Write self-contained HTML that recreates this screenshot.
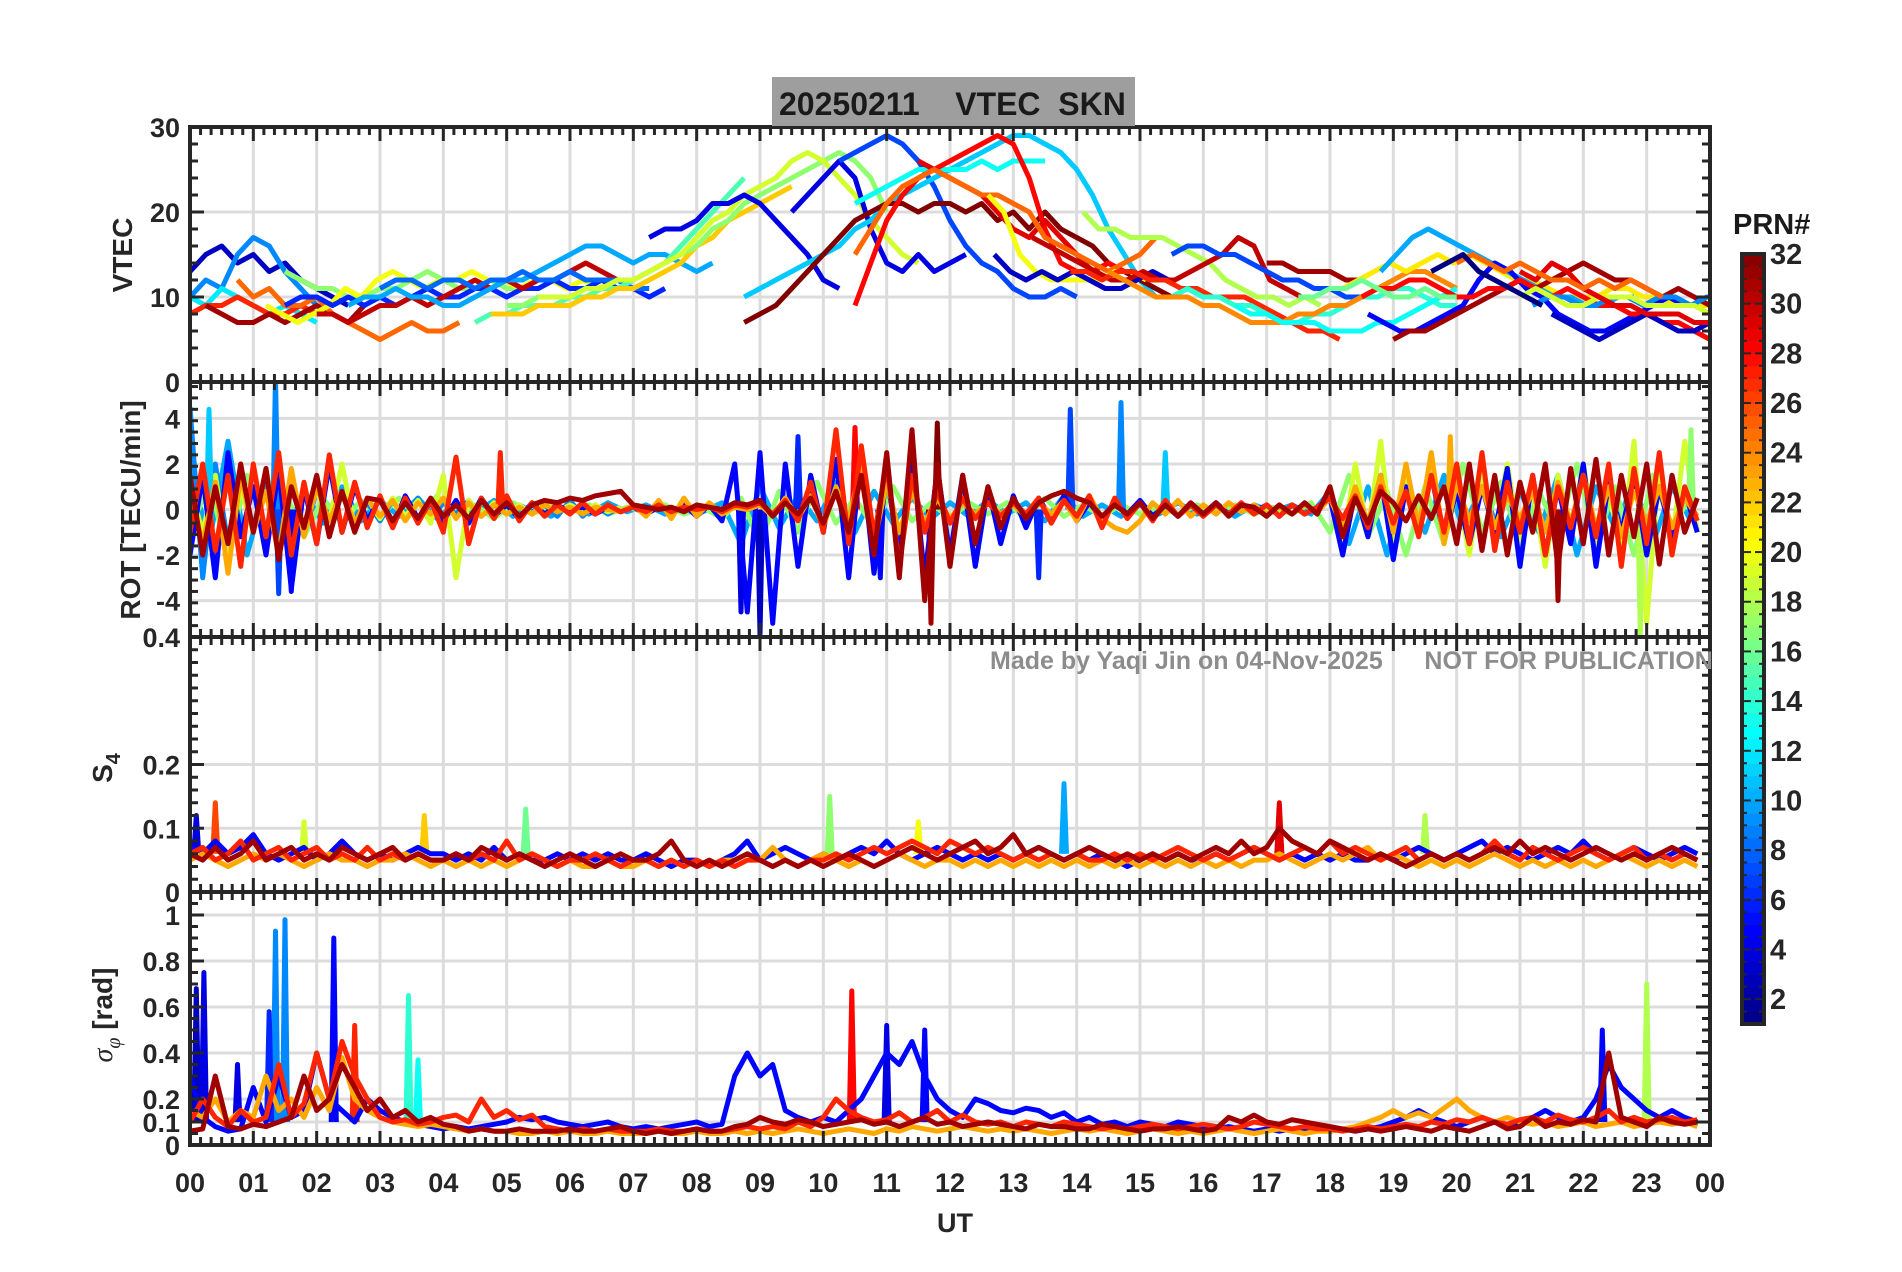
<!DOCTYPE html>
<html><head><meta charset="utf-8"><style>
html,body{margin:0;padding:0;background:#fff}
svg{display:block}
text{font-family:"Liberation Sans",Arial,sans-serif;font-weight:bold;fill:#262626}
</style></head><body>
<svg id="chart" width="1902" height="1272" viewBox="0 0 1902 1272" xmlns="http://www.w3.org/2000/svg">
<g id="grid"></g>
<g id="series"></g>
<g id="axes"></g>
<g id="labels"></g>
</svg>
<script>
// ---------- DATA ----------
const xTickLabels=["00","01","02","03","04","05","06","07","08","09","10","11","12","13","14","15","16","17","18","19","20","21","22","23","00"];
const cbarTicks=[2,4,6,8,10,12,14,16,18,20,22,24,26,28,30,32];
const vtecTicks=[0,10,20,30];
const rotTicks=[-4,-2,0,2,4];
const s4Ticks=[0,0.1,0.2,0.4];
const sigTicks=[0,0.1,0.2,0.4,0.6,0.8,1];
// VTEC tracks: prn, start hour, values at 0.25 h step
const vtecPrn=[3,9,12,27,31,25,17,20,6,30,10,8,15,22,17,19,4,4,7,11,13,32,28,29,25,20,3,18,30,27,7,31,14,24,13,21,10,5,31,28,9,19,3,29,25,16,1];
const vtecStart=[0,0,0,0,0.25,0.75,1.5,1.2,1.5,2.0,2.5,3.0,4.5,4.75,5.0,5.5,7.25,9.5,10.25,8.75,10.5,8.75,10.5,11.5,10.5,12.6,12.7,14.1,13.3,13.9,15.5,17.0,15.5,14.5,16.5,18.2,18.8,18.6,19.0,18.5,21.2,21.0,21.5,21.0,20.0,17.5,19.6];
const vtecVals=[
[13,15,16,14,15,13,14,12,11,10,9],
[10,12,11,15,17,16,13,11,9,8],
[10,9,11,10,9,8,9,8,7],
[8,9,9,10,9,8,8,9,8],
[9,8,7,7,8,7,8,9,8,7,9],
[12,10,11,9,9,10,8,7,6,5,6,7,6,6,7],
[13,12,11,11,10,10,11,11,12,13,12,11,11,12,11,11,12,12,11,11,12,11],
[9,8,7,8,9,11,10,12,13,12,11,12,12,13,12,12,11,12,12,11,12,11,12],
[9,10,10,9,10,9,10,9,10,11,10,10,11,11,10,11,11,12,11,11,12,11,11,10,11],
[8,8,7,8,9,9,10,9,10,11,12,11,12,11,12,12,13,14,13,12],
[9,10,10,11,10,10,9,9,10,11,12,12,13,14,15,16,16,15,14,15,15,14,13,14],
[11,12,12,11,12,12,11,12,12,13,12,12,13,12,12,12,11,11],
[7,8,8,9,9,9,10,10,11,11,12,13,14,16,18,20,22,24],
[8,8,8,9,9,9,10,10,11,11,12,13,14,16,17,19,20,21,22,23],
[9,9,10,10,10,11,11,12,12,13,14,15,16,18,19,21,22,23,24,25,26,27,26,24,20],
[10,10,10,11,11,12,12,13,14,15,17,19,20,22,23,24,26,27,26,24,22,19,17,15,14],
[17,18,18,19,21,21,22,21,19,17,15,12,11],
[20,22,24,26,24,18,14,13,15,13,14,15],
[26,27,28,29,28,26,23,19,16,14,13,11,10,10,11,10],
[10,11,12,13,14,15,16,18,19,21,22,23,24,25,26,27,28,29,29,28,27,25,22,18,15,12,10,10,11,10],
[21,22,23,24,25,25,25,25,26,25,26,26,26],
[7,8,9,11,13,15,17,19,20,21,21,20,21,21,20,21,19,20,18,20,18,17,16,14,13,12,11,10],
[9,14,19,22,24,25,26,27,28,29,28,24,18,14,13,13,14,13],
[26,25,24,23,22,20,18,17,19,17,15,13],
[15,18,21,23,24,25,24,23,22,22,21,20,17,16,15,14,13,14,15,17],
[22,20,15,13,12,12,12,12,13,13,12],
[15,13,12,13,12,13,12,11,11,12,13,12],
[20,18,18,17,17,17,16,15,14,12,11,10,10,9,10,9],
[17,16,15,14,13,12,12,13,12,12,13,14,15,17,16,12,11,10],
[13,13,12,13,13,12,12,11,11,10,10,10,9,8,7,6,6,5],
[15,16,16,15,15,14,13,12,12,11,11,10,10],
[14,14,13,13,13,12,12],
[10,11,10,10,9,9,8,7,7,8,8,9,10,10,11,11,10,9,9],
[13,12,11,10,10,10,9,9,8,7,7,7,8,8,9,9,10,11,12,13,13,12,11],
[9,8,8,7,7,7,6,6,6,7,7,8,9,10,11],
[11,12,13,14,13,14,15,14,15,14,13,12,12,11,10,10,10,11,11,10,10,9,9,9,10,10,9,8,9,10],
[13,15,17,18,17,16,15,14,13,12,11,10,10,9,9,10,10],
[8,7,6,6,7,8,9,12,14,13,11,10,8,7,6,6,7,8,9,10,9],
[5,6,6,7,8,9,10,11,12,11,12,13,14,13,12,12,11,10,11,10,9,9,8,8,8,7,7,6,5,4,5,4,5,5],
[10,11,11,12,12,11,10,10,11,11,12,11,10,11,10,9,9,8,8,7,7,6,5,4,3,2,1,1,1,1,1],
[9,10,10,9,9,10,10,9,10,10,9,10,10,9,10,10,9,10,10,10,9,10,10,10,9,10,10,10,10,10,10],
[10,11,10,9,9,10,10,10,9,9,9,9,8,9,9,9,10,9,8,8,7,8,8,8,8,7,7,7,8,7,8],
[8,7,6,5,6,7,8,7,6,6,7,8,9,8,9,9,8,8,9,9,10],
[13,12,14,13,11,10,9,9,8,8,8,7,7,6,7,6,6,5,6,7,6,5,6],
[14,15,14,13,14,13,12,12,11,12,11,12,11,10],
[10,10,11,11,12,11,10,10,11,10,10],
[13,14,15,13,12,11,10,9]
];
// ROT series at 0.2 h step
const rotPrn=[5,23,27,31];
const rotVals=[
[-2,1.5,-3,2.5,-1.2,1,-2,1.8,-3.5,1,-1.5,2,-1,1,-0.5, 0.5,-0.8,0.6,-0.4,0.3,-0.5,0.4,-0.6,0.5,-0.3,0.2,-0.4,0.3,-0.2,0.2,-0.1,0.1,-0.2,0.1,-0.1, 0.1,-0.2,0.1,-0.1,0.2,-0.3,0.2,-0.5,2,-4.5, 2.5,-5,2,-2.5,1.5,-1,2.2,-3,2.5,-2.8,1.5,-2,2.5,-3,1.8,-2,1.5,-2.5,1,-1.5, 0.6,-0.8,0.5,-0.4,0.6,-0.5,0.3,-0.4,0.3,-0.2,0.4,-0.3,0.2,-0.3,0.2,-0.2,0.3,-0.2,0.2,-0.1,0.2,-0.3,0.2,-0.2,0.1, 0.5,-2,0.8,-1.2,1.5,-2.2,1,-0.8,1.5,-1.2,0.8,-1.5,1,-1,1.8,-2.5,1.5,-2,1,-1.5,2,-2.5,1.2,-1,1.5,-2,1,-1.2,0.8,-1],
[0.8,-1.5,1.2,-2.8,1.5,-1,0.8,-2,1.8,-1.2,1,-0.5,0.8,-0.6,0.5, -0.3,0.4,-0.5,0.3,-0.2,0.5,-0.4,0.3,-0.3,0.2,-0.2,0.1,-0.2,0.2,-0.1,0.1,-0.2,0.1,0,-0.1, 0.2,-0.3,0.4,-0.4,0.5,-0.3,0.3,-0.2,0.1,0, 0.2,-0.3,0.5,-0.4,0.6,-0.8,1,-0.5,2,-1.5,1.2,-1,0.8,-0.6,0.5,-0.4,0.3,-0.2,0.3,-0.2, 0.2,-0.3,0.3,-0.2,0.4,-0.5,0.6,-0.4,-0.8,-1,-0.5,0.3,-0.2,0.4,-0.3,0.2,-0.2,0.3,-0.1,0.2,-0.2,0.1,-0.2,0.2,-0.1, 0.5,-0.8,1,-0.6,1.5,-1,2,-0.8,2.5,-1.5,1.2,-0.5,1,-0.8,0.6,-0.4,0.8,-1,1.2,-0.6,1.5,-0.8,1,-1.2,0.8,-0.6,1,-0.8,0.5,-0.3],
[-1,2,-1.8,1.5,-2.5,2,-1.2,2.5,-2,1.2,-1.5,2.4,-1,1.2,-0.8, 0.6,-0.8,0.5,-0.6,0.4,-1,2.3,-1.5,0.5,-0.4,0.6,-0.5,0.3,-0.3,0.2,-0.2,0.3,-0.2,0.2,-0.1, 0.1,-0.1,0.2,-0.1,0.1,0,0.1,-0.1,0.2,0.1, 0.3,-0.2,0.4,-0.5,1.2,-1,3.5,-1.5,2.8,-1.2,2,-2.5,1.5,-1,0.8,-0.6,0.5,-0.4,0.3,-0.3, 0.3,-0.2,0.5,-0.6,0.4,-0.3,0.6,-0.8,0.5,-0.4,0.3,-0.5,0.4,-0.3,0.2,-0.3,0.2,-0.2,0.3,-0.2,0.2,-0.3,0.2,-0.2,0.1, 0.5,-0.4,0.6,-0.8,1,-0.6,0.8,-1.2,1.5,-1,2,-1.5,2.5,-1.8,1.2,-1,1.5,-2,1,-0.8,1.5,-1.2,2,-2.5,1.8,-1.5,2.5,-2,1,-0.5],
[1.5,-2,1,-1.5,2,-1,1.8,-2.2,1,-0.8,1.5,-1.2,0.8,-1,0.5, 0.4,-0.5,0.3,-0.4,0.5,-0.3,0.2,-0.4,0.4,-0.2,0.3,-0.3,0.2,0.4,0.3,0.5,0.4,0.6,0.7,0.8, 0.2,0.1,0,0.1,-0.1,0.2,0.1,0,0.3,0.2, 0.4,-0.3,0.3,-0.2,0.5,-0.6,0.8,-1,1.5,-2,2.5,-3,3.5,-4,2,-2.5,1.5,-1.5,1,-0.8, 0.5,-0.4,0.3,0.6,0.8,0.5,0.3,-0.3,0.2,-0.2,0.3,-0.4,0.2,-0.3,0.3,-0.2,0.3,-0.3,0.2,0.1,-0.3,0.2,-0.2,0.3,-0.2, 1,-1.2,0.5,-0.6,0.8,0.3,-0.5,0.6,-0.4,1,-1.5,2,-1.8,1.5,-2,1.2,-1,2,-2.5,1.8,-1.5,2.2,-2,1.5,-1.2,2,-2.4,1.5,-1,0.5]
];
const rotExtraPrn=[10,17,9,19,19];
const rotExtraStart=[0,0,0,0,18];
const rotExtraStep=[0.3,0.3,0.2,0.2,0.2];
const rotExtraVals=[
[2,-1.5,3,-2,1,-1.2,0.8,-0.6,1,-0.5,0.4,-0.3,0.5,-0.4,0.3,-0.2,0.4,-0.3,0.2,-0.3,0.2,-0.2,0.3,-0.1,0.2,-0.2,0.1,-0.1,0.3,-1.5,1,-0.8,0.6,-0.5,1.2,-1,0.8,-0.6,0.5,-0.4,0.3,-0.3,0.4,-0.2,0.3,-0.5,0.6,-0.3,0.2,-0.3,0.2,-0.2,0.3,-0.2,0.2,-0.3,0.2,-0.1,0.2,-0.2,0.8,-1.5,1,-2,1.2,-1,1.5,-0.8,1,-1.2,0.8,-1,1.5,-2,1,-0.8,1.2,-1.5,1,-0.5],
[-1,1.2,-2,1.5,-1,0.8,-1.2,0.5,-0.6,0.4,-0.3,0.5,-0.4,0.6,-0.3,0.2,-0.4,0.3,-0.2,0.2,-0.1,0.2,-0.2,0.1,-0.1,0.2,-0.2,0.1,-0.4,0.5,-1.5,0.8,-1,1.2,-0.6,0.5,-0.8,1,-0.5,0.3,-0.4,0.3,-0.2,0.3,-0.4,0.5,-0.3,0.2,-0.3,0.2,-0.2,0.1,-0.2,0.2,-0.1,0.2,-0.2,0.1,-0.2,0.3,-1,1.5,-1.2,0.8,-2,1,-1.5,2,-1,1.2,-1.5,0.8,-1,2,-1.5,1,-2,1.5,-0.8,0.6],
[4.5,-3,2,-1.5,1,-0.8,1.5,-2,1.5,-1,0.8,-0.5,0.6,-0.4,0.3,-0.5,0.4,-0.3,0.5,-0.4,0.3,-0.2,0.4,-0.3,0.2,-0.2,0.2,-0.1,0.2,-0.3,0.4,-0.3,0.2,-0.2,0.1],
[1,-1,1.5,-2,1,-1,1.8,-1.2,1,-0.6,0.8,-0.5,2,-0.8,0.5,-0.4,0.5,-0.3,0.4,-0.6,1.5,-3,0.4,-0.3,0.3,-0.2,0.2,-0.2,0.3,-0.1,0.2,-0.1,0.2,-0.1,0.1],
[1,-1.5,2,-1,3,-2,1.5,-1,2.5,-1.5,1,-2,1.5,-1,2,-1.5,1,-2.5,1.5,-1,2,-1.5,1,-2,3,-5,2,-1.5,3,-1]
];
const rotSpikeT=[0.3,1.35,1.4,1.6,4.9,8.7,9.0,9.6,10.9,10.5,11.8,11.7,13.9,14.7,15.4,13.4,21.6,22.9,23.7,19.9];
const rotSpikeV=[4.4,5.8,-3.7,-3.6,2.5,-4.5,-5.5,3.2,-3,3.6,3.8,-5,4.4,4.7,2.5,-3,-4,-5.5,3.5,3.2];
const rotSpikePrn=[11,9,7,5,27,4,3,6,5,28,32,31,7,9,11,6,31,18,17,23];
// S4 series at 0.2 h step
const s4Prn=[5,23,27,31];
const s4Vals=[
[0.07,0.06,0.08,0.06,0.07,0.09,0.06,0.05,0.06,0.07,0.05,0.06,0.08,0.06,0.05,0.06,0.05,0.06,0.07,0.06,0.06,0.05,0.06,0.05,0.07,0.05,0.06,0.05,0.05,0.06,0.05,0.06,0.05,0.06,0.05,0.05,0.06,0.05,0.04,0.05,0.05,0.04,0.05,0.06,0.08,0.05,0.06,0.07,0.06,0.05,0.06,0.05,0.06,0.07,0.06,0.08,0.06,0.05,0.06,0.07,0.06,0.05,0.06,0.05,0.06,0.05,0.06,0.07,0.06,0.05,0.06,0.05,0.06,0.05,0.04,0.05,0.06,0.05,0.06,0.05,0.05,0.06,0.05,0.06,0.07,0.06,0.05,0.06,0.05,0.06,0.05,0.06,0.05,0.05,0.06,0.05,0.06,0.07,0.06,0.05,0.06,0.07,0.08,0.06,0.07,0.06,0.05,0.06,0.07,0.06,0.08,0.06,0.05,0.06,0.07,0.06,0.05,0.06,0.07,0.06],
[0.05,0.06,0.05,0.04,0.05,0.06,0.05,0.06,0.05,0.04,0.05,0.06,0.05,0.05,0.04,0.05,0.05,0.06,0.05,0.04,0.05,0.04,0.05,0.04,0.05,0.04,0.05,0.06,0.05,0.04,0.05,0.04,0.04,0.05,0.04,0.04,0.05,0.04,0.05,0.04,0.05,0.04,0.05,0.05,0.06,0.05,0.07,0.05,0.04,0.05,0.06,0.05,0.04,0.05,0.04,0.05,0.06,0.05,0.04,0.05,0.05,0.04,0.05,0.04,0.05,0.04,0.05,0.04,0.05,0.04,0.05,0.04,0.05,0.04,0.05,0.04,0.05,0.04,0.05,0.04,0.05,0.04,0.05,0.04,0.05,0.05,0.06,0.05,0.04,0.05,0.06,0.05,0.06,0.07,0.05,0.06,0.05,0.04,0.05,0.04,0.05,0.04,0.05,0.06,0.05,0.04,0.05,0.04,0.05,0.04,0.05,0.04,0.05,0.06,0.05,0.04,0.05,0.04,0.05,0.04],
[0.06,0.07,0.05,0.06,0.08,0.05,0.06,0.07,0.05,0.06,0.07,0.05,0.06,0.05,0.07,0.05,0.06,0.05,0.06,0.05,0.05,0.06,0.05,0.06,0.05,0.08,0.05,0.06,0.05,0.04,0.05,0.05,0.06,0.05,0.04,0.05,0.05,0.04,0.05,0.04,0.05,0.04,0.05,0.04,0.05,0.05,0.04,0.05,0.04,0.05,0.05,0.06,0.05,0.06,0.07,0.06,0.07,0.08,0.07,0.06,0.08,0.07,0.06,0.07,0.06,0.05,0.06,0.05,0.06,0.05,0.06,0.05,0.05,0.06,0.05,0.06,0.05,0.06,0.07,0.06,0.05,0.06,0.05,0.06,0.07,0.06,0.05,0.06,0.07,0.06,0.08,0.06,0.07,0.06,0.05,0.06,0.07,0.05,0.06,0.05,0.06,0.05,0.06,0.08,0.06,0.05,0.07,0.06,0.05,0.06,0.07,0.06,0.05,0.06,0.07,0.05,0.06,0.05,0.06,0.05],
[0.06,0.05,0.07,0.05,0.06,0.08,0.05,0.06,0.07,0.05,0.06,0.05,0.07,0.06,0.05,0.06,0.07,0.05,0.06,0.05,0.05,0.06,0.05,0.07,0.06,0.05,0.06,0.05,0.04,0.05,0.06,0.05,0.04,0.05,0.06,0.05,0.05,0.06,0.08,0.05,0.04,0.05,0.04,0.05,0.06,0.05,0.04,0.05,0.04,0.05,0.04,0.05,0.06,0.05,0.04,0.05,0.06,0.07,0.06,0.05,0.06,0.07,0.08,0.06,0.07,0.09,0.06,0.07,0.06,0.05,0.06,0.07,0.06,0.05,0.06,0.05,0.06,0.05,0.06,0.05,0.06,0.07,0.06,0.08,0.06,0.07,0.1,0.08,0.07,0.06,0.08,0.07,0.06,0.05,0.06,0.05,0.04,0.05,0.06,0.05,0.06,0.05,0.06,0.07,0.06,0.08,0.06,0.07,0.06,0.05,0.06,0.07,0.06,0.05,0.06,0.05,0.06,0.07,0.06,0.05]
];
const s4SpikeT=[0.4,13.8,10.1,17.2,5.3,3.7,0.1,1.8,11.5,19.5];
const s4SpikeV=[0.14,0.17,0.15,0.14,0.13,0.12,0.12,0.11,0.11,0.12];
const s4SpikePrn=[26,10,17,29,16,22,4,19,20,18];
// sigma phi series at 0.2 h step
const sigPrn=[5,23,27,31];
const sigVals=[
[0.3,0.12,0.08,0.06,0.07,0.25,0.1,0.3,0.12,0.15,0.4,0.2,0.15,0.1,0.2, 0.15,0.12,0.1,0.09,0.08,0.07,0.08,0.07,0.08,0.09,0.1,0.12,0.11,0.12,0.1,0.09,0.08,0.09,0.1,0.08, 0.07,0.08,0.07,0.08,0.09,0.1,0.08,0.09,0.3,0.4, 0.3,0.35,0.15,0.12,0.1,0.12,0.1,0.15,0.2,0.3,0.4,0.35,0.45,0.3,0.2,0.15,0.12,0.2,0.18,0.15, 0.14,0.16,0.15,0.12,0.14,0.1,0.12,0.09,0.1,0.08,0.1,0.09,0.08,0.1,0.09,0.08,0.07,0.08,0.07,0.06,0.07,0.06,0.07,0.06,0.07, 0.06,0.07,0.06,0.07,0.08,0.1,0.12,0.15,0.12,0.1,0.08,0.1,0.12,0.1,0.09,0.1,0.12,0.15,0.12,0.1,0.12,0.2,0.35,0.25,0.2,0.15,0.12,0.15,0.12,0.1],
[0.15,0.12,0.2,0.1,0.15,0.12,0.3,0.15,0.2,0.12,0.25,0.15,0.38,0.2,0.15, 0.12,0.1,0.09,0.08,0.09,0.08,0.07,0.06,0.07,0.06,0.06,0.05,0.05,0.06,0.05,0.06,0.05,0.05,0.06,0.05, 0.05,0.05,0.06,0.05,0.05,0.06,0.05,0.05,0.06,0.05, 0.06,0.05,0.06,0.07,0.06,0.05,0.06,0.07,0.06,0.05,0.07,0.06,0.08,0.07,0.06,0.07,0.08,0.07,0.06,0.07, 0.06,0.07,0.06,0.05,0.06,0.07,0.06,0.07,0.06,0.05,0.06,0.07,0.06,0.05,0.06,0.05,0.06,0.07,0.06,0.05,0.06,0.07,0.06,0.05,0.06, 0.06,0.07,0.08,0.1,0.12,0.15,0.12,0.14,0.12,0.16,0.2,0.15,0.12,0.1,0.12,0.1,0.09,0.1,0.08,0.09,0.1,0.08,0.09,0.1,0.08,0.09,0.1,0.09,0.1,0.08],
[0.1,0.2,0.12,0.08,0.15,0.1,0.12,0.35,0.12,0.18,0.4,0.2,0.45,0.3,0.2, 0.12,0.1,0.11,0.09,0.1,0.12,0.13,0.1,0.2,0.12,0.15,0.11,0.13,0.08,0.07,0.06,0.07,0.06,0.07,0.06, 0.06,0.06,0.07,0.06,0.06,0.07,0.06,0.06,0.07,0.08, 0.07,0.08,0.07,0.1,0.08,0.12,0.2,0.15,0.12,0.1,0.11,0.14,0.1,0.12,0.15,0.1,0.13,0.1,0.09,0.1, 0.08,0.1,0.09,0.08,0.1,0.09,0.08,0.07,0.08,0.07,0.08,0.09,0.08,0.07,0.08,0.09,0.08,0.07,0.08,0.1,0.09,0.08,0.07,0.08,0.07, 0.07,0.06,0.07,0.08,0.07,0.08,0.09,0.08,0.1,0.09,0.11,0.1,0.12,0.1,0.09,0.11,0.12,0.1,0.13,0.11,0.1,0.12,0.15,0.1,0.12,0.1,0.11,0.12,0.1,0.11],
[0.06,0.07,0.3,0.08,0.07,0.09,0.08,0.1,0.12,0.3,0.15,0.2,0.35,0.25,0.15, 0.2,0.12,0.15,0.1,0.12,0.09,0.08,0.06,0.07,0.06,0.06,0.07,0.06,0.06,0.06,0.07,0.06,0.06,0.07,0.08, 0.06,0.05,0.06,0.05,0.06,0.07,0.06,0.06,0.08,0.09, 0.12,0.1,0.09,0.11,0.1,0.08,0.09,0.1,0.11,0.09,0.1,0.08,0.1,0.12,0.09,0.1,0.08,0.09,0.1,0.09, 0.08,0.07,0.09,0.08,0.08,0.07,0.07,0.09,0.08,0.07,0.06,0.07,0.07,0.08,0.07,0.06,0.07,0.12,0.1,0.13,0.1,0.09,0.11,0.1,0.09, 0.08,0.07,0.06,0.07,0.06,0.07,0.08,0.07,0.06,0.08,0.07,0.06,0.08,0.1,0.07,0.08,0.12,0.08,0.1,0.09,0.11,0.1,0.4,0.12,0.1,0.08,0.12,0.1,0.09,0.1]
];
const sigSpikeT=[0.1,0.22,1.35,1.5,2.27,2.6,3.45,10.45,11.0,11.6,23.0,22.3,1.25,0.75,3.6];
const sigSpikeV=[0.68,0.75,0.93,0.98,0.9,0.52,0.65,0.67,0.52,0.5,0.7,0.5,0.58,0.35,0.37];
const sigSpikePrn=[3,4,9,9,5,27,14,28,4,5,18,5,6,4,13];

// ---------- LAYOUT ----------
const X0=190,X1=1710;
const panels=[
 {name:"vtec",top:127,bot:382,min:0,max:30,ticks:vtecTicks,minor:2},
 {name:"rot",top:382,bot:637,min:-5.6,max:5.6,ticks:rotTicks,minor:0.5},
 {name:"s4",top:637,bot:892,min:0,max:0.4,ticks:s4Ticks,minor:0.02},
 {name:"sigma",top:892,bot:1145,min:0,max:1.1,ticks:sigTicks,minor:0.05}
];
const xs=h=>X0+(X1-X0)*h/24;
const ysf=p=>v=>p.bot-(p.bot-p.top)*(v-p.min)/(p.max-p.min);
function jet(prn){
 const t=(prn-1)/31;
 const f=x=>Math.max(0,Math.min(1,x));
 const r=f(1.5-Math.abs(4*t-3)),g=f(1.5-Math.abs(4*t-2)),b=f(1.5-Math.abs(4*t-1));
 return `rgb(${Math.round(r*255)},${Math.round(g*255)},${Math.round(b*255)})`;
}
const NS="http://www.w3.org/2000/svg";
function mk(tag,attrs,parent){const e=document.createElementNS(NS,tag);for(const k in attrs)e.setAttribute(k,attrs[k]);parent.appendChild(e);return e;}
const gGrid=document.getElementById('grid'),gSer=document.getElementById('series'),gAx=document.getElementById('axes'),gLab=document.getElementById('labels');
const DARK="#262626";

const defs=mk('defs',{},document.getElementById('chart'));
panels.forEach(p=>{const c=mk('clipPath',{id:'clip-'+p.name},defs);mk('rect',{x:X0,y:p.top,width:X1-X0,height:p.bot-p.top},c);});

panels.forEach(p=>{
 const y=ysf(p);
 for(let h=1;h<24;h++){const l=mk('line',{x1:xs(h),x2:xs(h),y1:p.top,y2:p.bot,stroke:"#dcdcdc","stroke-width":3},gGrid);
 
 }
 p.ticks.forEach(v=>{if(v===p.min)return;const l=mk('line',{x1:X0,x2:X1,y1:y(v),y2:y(v),stroke:"#dcdcdc","stroke-width":3},gGrid);
 
 });
});

function poly(pts,prn,clip,name){
 const e=mk('polyline',{points:pts.map(q=>q[0].toFixed(1)+","+q[1].toFixed(1)).join(" "),fill:"none",stroke:jet(prn),"stroke-width":5,"stroke-linejoin":"round","clip-path":"url(#clip-"+clip+")"},gSer);
 
 
}
{const p=panels[0],y=ysf(p);
 vtecVals.forEach((vals,i)=>poly(vals.map((v,j)=>[xs(vtecStart[i]+0.25*j),y(v)]),vtecPrn[i],p.name,'vtec-prn-'+vtecPrn[i]));}
function drawSeries(p,prns,valsArr,step,name){const y=ysf(p);valsArr.forEach((vals,i)=>poly(vals.map((v,j)=>[xs(step*j),y(v)]),prns[i],p.name,name+'-prn-'+prns[i]));}
function drawSpikes(p,T,V,P,base,name){const y=ysf(p);T.forEach((t,i)=>poly([[xs(t-0.04),y(base)],[xs(t),y(V[i])],[xs(t+0.04),y(base)]],P[i],p.name,name+'-spike'));}
{const p=panels[1],y=ysf(p);
 rotExtraVals.forEach((vals,i)=>poly(vals.map((v,j)=>[xs(rotExtraStart[i]+rotExtraStep[i]*j),y(v)]),rotExtraPrn[i],p.name,'rot-prn-'+rotExtraPrn[i]));
 drawSpikes(p,rotSpikeT,rotSpikeV,rotSpikePrn,0,'rot');
 drawSeries(p,rotPrn,rotVals,0.2,'rot');}
drawSpikes(panels[2],s4SpikeT,s4SpikeV,s4SpikePrn,0.06,'s4');
drawSeries(panels[2],s4Prn,s4Vals,0.2,'s4');
drawSpikes(panels[3],sigSpikeT,sigSpikeV,sigSpikePrn,0.1,'sigma');
drawSeries(panels[3],sigPrn,sigVals,0.2,'sigma');

panels.forEach(p=>{
 const y=ysf(p);
 const fr=mk('rect',{x:X0,y:p.top,width:X1-X0,height:p.bot-p.top,fill:"none",stroke:DARK,"stroke-width":4},gAx);
 
 
 for(let m=0;m<=144;m++){const h=m/6,L=(m%6===0)?14:8;
  mk('line',{x1:xs(h),x2:xs(h),y1:p.top,y2:p.top+L,stroke:DARK,"stroke-width":3},gAx);
  mk('line',{x1:xs(h),x2:xs(h),y1:p.bot,y2:p.bot-L,stroke:DARK,"stroke-width":3},gAx);}
 const n=Math.round((p.max-p.min)/p.minor);
 for(let k=0;k<=n;k++){const v=p.min+k*p.minor;
  if(v<p.min-1e-9||v>p.max+1e-9)continue;
  const maj=p.ticks.some(t=>Math.abs(t-v)<1e-6),L=maj?14:8;
  mk('line',{x1:X0,x2:X0+L,y1:y(v),y2:y(v),stroke:DARK,"stroke-width":3},gAx);
  mk('line',{x1:X1,x2:X1-L,y1:y(v),y2:y(v),stroke:DARK,"stroke-width":3},gAx);}
 p.ticks.forEach(v=>{
  const t=mk('text',{x:X0-10,y:y(v)+10,"text-anchor":"end","font-size":27},gLab);t.textContent=String(v);
  
  });
});
xTickLabels.forEach((s,i)=>{const t=mk('text',{x:xs(i),y:1192,"text-anchor":"middle","font-size":27},gLab);t.textContent=s;
 
 });

{const cx=1742,cw=22,ct=254,cb=1024;
 const cy=v=>cb-(cb-ct)*(v-1)/31;
 for(let k=0;k<62;k++){const v0=1+k*0.5;const r=mk('rect',{x:cx,y:cy(v0+0.5),width:cw,height:cy(v0)-cy(v0+0.5)+0.5,fill:jet(v0+0.25)},gAx);
  
  }
 const fr=mk('rect',{x:cx,y:ct,width:cw,height:cb-ct,fill:"none",stroke:DARK,"stroke-width":4},gAx);
 
 
 for(let v=1;v<=32;v+=0.5){const L=(v%2===0)?9:5;
  mk('line',{x1:cx,x2:cx+L,y1:cy(v),y2:cy(v),stroke:DARK,"stroke-width":2},gAx);
  mk('line',{x1:cx+cw,x2:cx+cw-L,y1:cy(v),y2:cy(v),stroke:DARK,"stroke-width":2},gAx);}
 cbarTicks.forEach(v=>{const t=mk('text',{x:1770,y:cy(v)+10,"font-size":29},gLab);t.textContent=String(v);
  
  });
}
</script>
<div style="position:absolute;left:0;top:0;width:1902px;height:1272px;pointer-events:none">
<svg width="1902" height="1272" style="position:absolute;left:0;top:0">
<rect x="772" y="77" width="363" height="49" fill="#9e9e9e"/>
<text x="779" y="115" font-size="32" style="fill:#1a1a1a;white-space:pre" xml:space="preserve">20250211    VTEC  SKN</text>
<text x="1733" y="234" font-size="29" style="fill:#1a1a1a">PRN#</text>
<text x="955" y="1232" text-anchor="middle" font-size="27">UT</text>
<text transform="translate(132,255) rotate(-90)" text-anchor="middle" font-size="28">VTEC</text>
<text transform="translate(140,510) rotate(-90)" text-anchor="middle" font-size="28">ROT [TECU/min]</text>
<text transform="translate(112,768) rotate(-90)" text-anchor="middle" font-size="28">S<tspan font-size="20" dy="8">4</tspan></text>
<text transform="translate(112,1015) rotate(-90)" text-anchor="middle" font-size="28"><tspan font-style="italic" font-weight="normal" font-family="Liberation Serif, serif">σ</tspan><tspan font-size="20" dy="8" font-style="italic" font-weight="normal" font-family="Liberation Serif, serif">φ</tspan><tspan dy="-8"> [rad]</tspan></text>
<text x="990" y="669" font-size="25" style="fill:#8c8c8c;white-space:pre" xml:space="preserve">Made by Yaqi Jin on 04-Nov-2025      NOT FOR PUBLICATION</text>
</svg>
</div>
</body></html>
